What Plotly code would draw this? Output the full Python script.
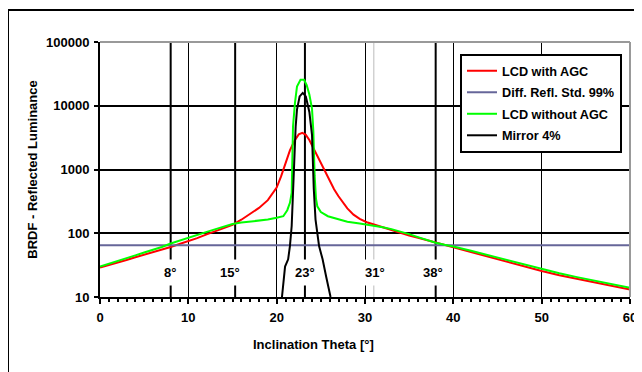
import math
import plotly.graph_objects as go

# ---- data ----
red_x = [0, 1, 2, 3, 4, 5, 6, 7, 8, 9, 10, 11, 12, 13, 14, 15, 16, 17, 18, 19,
         19.5, 20, 20.5, 21, 21.5, 22, 22.5, 22.9, 23.3, 23.7,
         24.2, 24.7, 25.2, 25.9, 26.5, 27, 27.5, 28, 28.7, 29.4,
         30.2, 31, 32, 33, 34, 35, 36, 37, 38, 39,
         40, 42, 44, 46, 48, 50, 52, 54, 56, 58, 60]
red_y = [29, 31.5, 34.5, 38, 42, 46, 50, 55, 61, 68, 75, 84, 95, 107, 120, 135, 163, 200, 250, 330,
         410, 520, 780, 1300, 2000, 2800, 3550, 3750, 3500, 2900,
         2100, 1500, 1100, 700, 490, 380, 300, 245, 196, 168,
         149, 137, 125, 112, 101, 92, 85, 78, 72, 65,
         59, 50, 42, 36, 30, 25.5, 22, 19.2, 17, 15, 13.1]

green_x = [0, 1, 2, 3, 4, 5, 6, 7, 8, 9, 10, 11, 12, 13, 14, 15, 16, 17, 18, 19, 20,
           20.75, 21.2, 21.5, 21.7, 21.85, 22.07, 22.3, 22.7, 23.1, 23.4,
           23.7, 24.0, 24.15, 24.3, 24.45, 24.6, 25.0, 25.8, 27, 28,
           29.4, 31, 32, 33, 34, 35, 36, 37, 38, 39,
           40, 42, 44, 46, 48, 50, 52, 54, 56, 58, 60]
green_y = [30, 33, 36.5, 40.5, 45, 50, 55, 61, 69, 77, 85, 94, 104, 115, 127, 140, 147, 152, 157, 164, 175,
           185, 230, 300, 430, 4700, 11000, 20000, 25600, 25600, 21000,
           15000, 9000, 4000, 800, 350, 265, 215, 185, 165, 152,
           142, 132, 124, 116, 107, 97, 87, 78, 71, 66,
           62, 53, 45, 38, 32, 27.5, 23.5, 20.5, 18, 15.8, 13.9]

mirror_x = [20.6, 20.75, 20.95, 21.3, 21.5, 21.7, 21.85, 21.96, 22.15, 22.3, 22.6,
            22.95, 23.3, 23.7, 24.0, 24.2, 24.4, 24.8, 25.2, 25.6, 25.9, 26.1]
mirror_y = [10, 15, 30, 39, 63, 130, 430, 1430, 4700, 8700, 14000,
            15900, 14000, 8000, 3500, 500, 164, 63, 39, 21, 13, 10]

diff_x = [0, 60]
diff_y = [65, 65]

marker_angles = [8, 15.3, 23.2, 38]          # thick black marker lines
marker_thin = [31]                            # thin grey marker line
label_x = [7.95, 14.7, 23.2, 31.1, 37.7]
label_text = ["8°", "15°", "23°", "31°", "38°"]
label_level = 23.8

x_ticks = [0, 10, 20, 30, 40, 50, 60]
y_ticks = [10, 100, 1000, 10000, 100000]

FONT = "Liberation Sans, Arial, sans-serif"
BOLD = dict(family=FONT, size=13, color="black", weight="bold")

# page body has an 8px margin; plot area target in screenshot: x 100..630, y 42..297
OFF = 8
W, H = 642 - OFF, 372 - OFF
PL, PR, PT, PB = 100, 630, 42, 297
PW, PH = PR - PL, PB - PT

def px(xp):
    return (xp - PL) / PW

def py(yp):
    return 1 - (yp - PT) / PH

fig = go.Figure()
fig.add_trace(go.Scatter(x=red_x, y=red_y, mode="lines", name="LCD with AGC",
                         line=dict(color="#FF0000", width=2), legendgroup="a"))
fig.add_trace(go.Scatter(x=diff_x, y=diff_y, mode="lines", name="Diff. Refl. Std. 99%",
                         line=dict(color="#666699", width=2), legendgroup="b"))
fig.add_trace(go.Scatter(x=green_x, y=green_y, mode="lines", name="LCD without AGC",
                         line=dict(color="#00FF00", width=2), legendgroup="c"))
fig.add_trace(go.Scatter(x=mirror_x, y=mirror_y, mode="lines", name="Mirror 4%",
                         line=dict(color="black", width=2), legendgroup="d"))

shapes = []
for a in marker_angles:
    shapes.append(dict(type="line", xref="x", yref="paper", x0=a, x1=a, y0=0, y1=1,
                       line=dict(color="black", width=2), layer="below"))
for a in marker_thin:
    shapes.append(dict(type="line", xref="x", yref="paper", x0=a, x1=a, y0=0, y1=1,
                       line=dict(color="#BBBBBB", width=1), layer="below"))
# grey plot-area border top and right
shapes.append(dict(type="line", xref="paper", yref="paper", x0=0, x1=1, y0=1, y1=1,
                   line=dict(color="#999999", width=2)))
shapes.append(dict(type="line", xref="paper", yref="paper", x0=1, x1=1, y0=0, y1=1,
                   line=dict(color="#999999", width=2)))
# outer chart frame: only top and left edges are visible (it runs off right/bottom)
shapes.append(dict(type="line", xref="paper", yref="paper",
                   x0=px(8), x1=px(660), y0=py(10), y1=py(10),
                   line=dict(color="black", width=2)))
shapes.append(dict(type="line", xref="paper", yref="paper",
                   x0=px(8), x1=px(8), y0=py(10), y1=py(390),
                   line=dict(color="black", width=2)))

annotations = []
for lx, lt in zip(label_x, label_text):
    annotations.append(dict(x=lx, y=math.log10(label_level), xref="x", yref="y",
                            text=lt, showarrow=False, font=BOLD, bgcolor="white",
                            borderpad=5))
annotations.append(dict(x=px(313), y=py(344), xref="paper", yref="paper",
                        text="Inclination Theta [°]", showarrow=False, font=BOLD,
                        xanchor="center", yanchor="middle"))

fig.update_layout(
    width=W, height=H,
    margin=dict(l=PL - OFF, r=W - (PR - OFF), t=PT - OFF, b=H - (PB - OFF), autoexpand=False),
    paper_bgcolor="white", plot_bgcolor="white",
    font=dict(family=FONT, size=13, color="black"),
    shapes=shapes, annotations=annotations,
    legend=dict(x=px(460), y=py(54), xanchor="left", yanchor="top",
                bgcolor="white", bordercolor="black", borderwidth=2,
                font=dict(family=FONT, size=12.7, color="black", weight="bold"),
                traceorder="grouped", tracegroupgap=2),
    xaxis=dict(range=[0, 60], tickvals=x_ticks, showgrid=True, gridcolor="black", gridwidth=1,
               showline=True, linecolor="black", linewidth=2, ticks="outside", ticklen=5,
               tickwidth=2, tickcolor="black", tickfont=BOLD, ticklabelstandoff=2,
               zeroline=False, automargin=False,
               minor=dict(dtick=1, ticks="outside", ticklen=3, tickwidth=2, tickcolor="black",
                          showgrid=False)),
    yaxis=dict(type="log", range=[1, 5], tickvals=y_ticks, ticktext=[str(v) for v in y_ticks],
               showgrid=True, gridcolor="black", gridwidth=2,
               showline=True, linecolor="black", linewidth=2, ticks="outside", ticklen=4,
               tickwidth=2, tickcolor="black", tickfont=BOLD, ticklabelstandoff=2,
               zeroline=False, automargin=False,
               title=dict(text="BRDF - Reflected Luminance", font=BOLD, standoff=5)),
)

fig.write_html("out.html",
               post_script="document.body.style.overflow='hidden';"
                           "document.documentElement.style.overflow='hidden';")
